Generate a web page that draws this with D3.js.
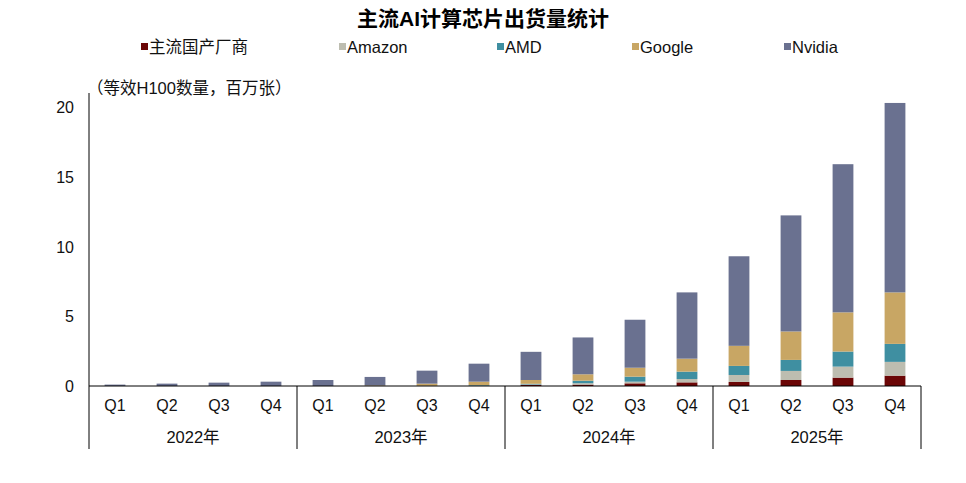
<!DOCTYPE html>
<html>
<head>
<meta charset="utf-8">
<script src="https://cdn.jsdelivr.net/npm/d3@7"></script>
<style>
  body { margin: 0; background: #fff; }
  text { font-family: "Liberation Sans", Arial, "Noto Sans CJK SC", sans-serif; }
  .cjk { font-family: "Liberation Sans", "Noto Sans CJK SC", sans-serif; }
</style>
</head>
<body>
<div id="chart"></div>
<script>
var quarters = ["Q1", "Q2", "Q3", "Q4"];
var years = ["2022年", "2023年", "2024年", "2025年"];
var seriesNames = ["主流国产厂商", "Amazon", "AMD", "Google", "Nvidia"];
var colors = ["#6B0606", "#BDBDB0", "#3F8FA1", "#C8A664", "#6A7190"];

// 16 quarters, 2022Q1 .. 2025Q4
var domestic = [0, 0, 0, 0, 0, 0, 0, 0, 0.08, 0.10, 0.19, 0.26, 0.29, 0.43, 0.60, 0.74];
var amazon   = [0, 0, 0, 0, 0, 0, 0, 0.01, 0.03, 0.10, 0.12, 0.24, 0.50, 0.65, 0.79, 0.99];
var amd      = [0, 0, 0, 0, 0, 0, 0.01, 0.05, 0.05, 0.18, 0.36, 0.53, 0.65, 0.79, 1.08, 1.29];
var google   = [0, 0, 0, 0, 0, 0.04, 0.16, 0.25, 0.27, 0.46, 0.64, 0.93, 1.44, 2.04, 2.81, 3.69];
var nvidia   = [0.10, 0.17, 0.24, 0.31, 0.43, 0.61, 0.93, 1.29, 2.02, 2.64, 3.44, 4.75, 6.42, 8.32, 10.62, 13.58];
var yTicks = [0, 5, 10, 15, 20];

var width = 966, height = 483;
var left = 89, right = 921, base = 386, top20 = 107;

var svg = d3.select("#chart").append("svg")
  .attr("width", width).attr("height", height);

var cats = d3.range(16);
var x = d3.scaleBand().domain(cats).range([left, right]).paddingInner(0.6).paddingOuter(0.3);
var y = d3.scaleLinear().domain([0, 20]).range([base, top20]);

var table = cats.map(function (i) {
  return { i: i, s0: domestic[i], s1: amazon[i], s2: amd[i], s3: google[i], s4: nvidia[i] };
});
var stack = d3.stack().keys(["s0", "s1", "s2", "s3", "s4"])(table);

svg.selectAll("g.series").data(stack).enter().append("g")
  .attr("fill", function (d, k) { return colors[k]; })
  .selectAll("rect").data(function (d) { return d; }).enter().append("rect")
  .attr("x", function (d) { return x(d.data.i); })
  .attr("width", x.bandwidth())
  .attr("y", function (d) { return y(d[1]); })
  .attr("height", function (d) { return y(d[0]) - y(d[1]); });

// title
svg.append("text").attr("class", "cjk")
  .attr("x", 483).attr("y", 26).attr("text-anchor", "middle")
  .attr("font-size", 21).attr("font-weight", "bold")
  .text("主流AI计算芯片出货量统计");

// legend
var legendX = [141, 339, 497, 632, 784];
var legend = svg.selectAll("g.legend").data(seriesNames).enter().append("g")
  .attr("transform", function (d, k) { return "translate(" + legendX[k] + ",47)"; });
legend.append("rect").attr("x", 0).attr("y", -4).attr("width", 7).attr("height", 7)
  .attr("fill", function (d, k) { return colors[k]; });
legend.append("text").attr("class", "cjk").attr("x", 8).attr("y", 6)
  .attr("font-size", 16.5).attr("fill", "#111").text(function (d) { return d; });

// unit
svg.append("text").attr("class", "cjk")
  .attr("x", 87).attr("y", 94).attr("font-size", 16.5).attr("fill", "#111")
  .text("（等效H100数量，百万张）");

// y axis
svg.append("line").attr("x1", left).attr("x2", left).attr("y1", 93).attr("y2", 449)
  .attr("stroke", "#000").attr("stroke-width", 1);
svg.selectAll("text.ytick").data(yTicks).enter().append("text")
  .attr("x", 74).attr("y", function (d) { return y(d) + 6; })
  .attr("text-anchor", "end").attr("font-size", 16).attr("fill", "#111")
  .text(function (d) { return d; });

// x axis
svg.append("line").attr("x1", left).attr("x2", right).attr("y1", base).attr("y2", base)
  .attr("stroke", "#000").attr("stroke-width", 1);
svg.selectAll("text.q").data(cats).enter().append("text")
  .attr("x", function (i) { return x(i) + x.bandwidth() / 2; })
  .attr("y", 411).attr("text-anchor", "middle").attr("font-size", 16).attr("fill", "#111")
  .text(function (i) { return quarters[i % 4]; });

var step = x.step();
svg.selectAll("line.div").data(d3.range(1, 5)).enter().append("line")
  .attr("x1", function (k) { return x(k * 4 - 1) + x.bandwidth() / 2 + step / 2; })
  .attr("x2", function (k) { return x(k * 4 - 1) + x.bandwidth() / 2 + step / 2; })
  .attr("y1", base).attr("y2", 449).attr("stroke", "#000").attr("stroke-width", 1);
svg.selectAll("text.yr").data(years).enter().append("text").attr("class", "cjk")
  .attr("x", function (d, k) { return (x(k * 4) + x(k * 4 + 3) + x.bandwidth()) / 2; })
  .attr("y", 443).attr("text-anchor", "middle").attr("font-size", 16.5).attr("fill", "#111")
  .text(function (d) { return d; });
</script>
</body>
</html>
